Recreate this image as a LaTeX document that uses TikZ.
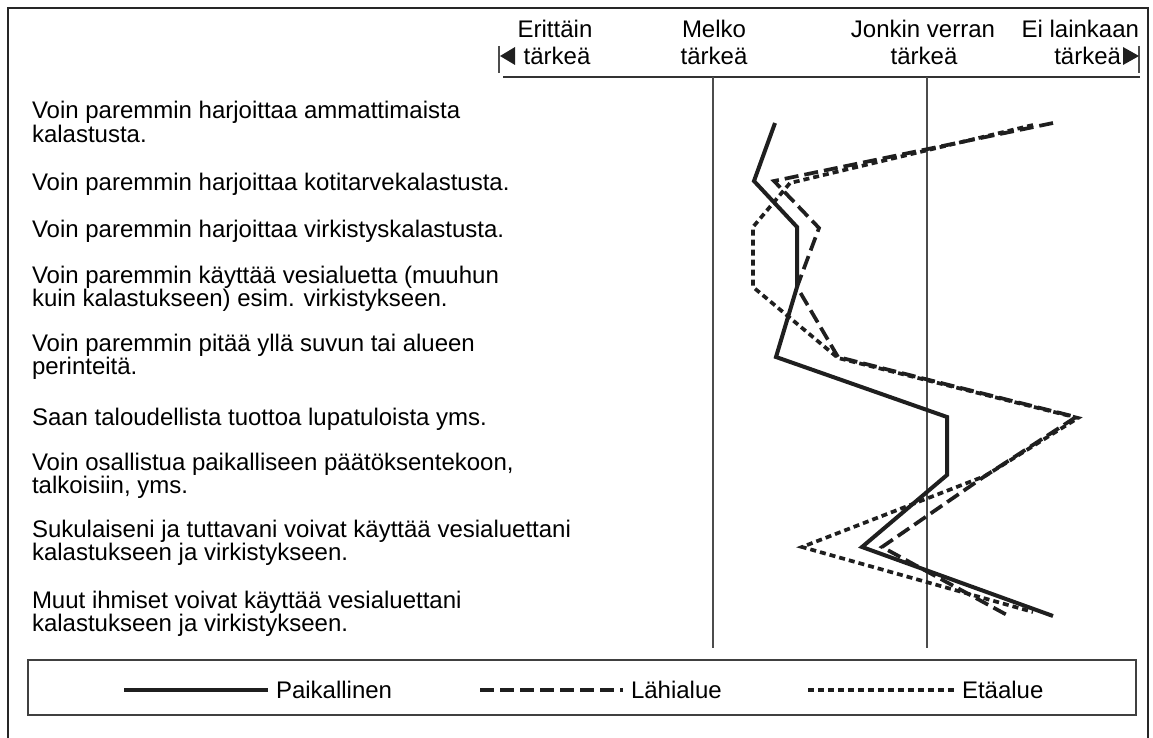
\documentclass[tikz,border=0pt]{standalone}
\usepackage{fontspec}
\setmainfont{Liberation Sans}
\usetikzlibrary{arrows}

\begin{document}
\begin{tikzpicture}[x=1pt,y=-1pt,line join=miter,
                    every node/.style={inner sep=0pt,outer sep=0pt}]
  \tikzstyle{rivi}=[anchor=west,align=left,font=\fontsize{24}{21.5}\selectfont]
  \tikzstyle{otsake}=[anchor=base,font=\fontsize{24}{27}\selectfont]
  \tikzstyle{selite}=[anchor=west,inner xsep=8pt,font=\fontsize{24}{27}\selectfont]
  \tikzstyle{paik}=[line width=4pt,color=black!88]
  \tikzstyle{lahi}=[line width=3.7pt,color=black!88,dash pattern=on 14pt off 6pt]
  \tikzstyle{eta}=[line width=3.7pt,color=black!88,dash pattern=on 6pt off 4pt]
  \tikzstyle{apu}=[line width=1.1pt,color=black!70]

  \useasboundingbox (0,0) rectangle (1153,738);

  % frame
  \draw[line width=2.8pt,color=black!85] (8,750) -- (8,8) -- (1148,8) -- (1148,750);

  % scale header
  \node[otsake]                 (H1) at (555,38)  {Erittäin};
  \node[otsake]                 (H1b) at (557,65) {tärkeä};
  \node[otsake]                 (H2) at (714,38)  {Melko};
  \node[otsake]                 (H2b) at (714,65) {tärkeä};
  \node[otsake]                 (H3) at (923,38)  {Jonkin verran};
  \node[otsake]                 (H3b) at (924,65) {tärkeä};
  \node[otsake,anchor=base east] (H4) at (1139,38) {Ei lainkaan};
  \node[otsake,anchor=base east] (H4b) at (1121,65) {tärkeä};

  \draw[line width=1.3pt,color=black!80] (503,77) -- (1140,77);
  \draw[apu] (499,46) -- (499,73);
  \draw[apu] (1139,46) -- (1139,73);
  \fill[black!88] (500,56) -- (515,47) -- (515,65) -- cycle;
  \fill[black!88] (1139,56) -- (1123,47) -- (1123,65) -- cycle;

  \draw[apu] (713,77) -- (713,648);
  \draw[apu] (927,77) -- (927,648);

  % statements
  \node[rivi] (T1) at (32,122) {Voin paremmin harjoittaa ammattimaista\\kalastusta.};
  \node[rivi] (T2) at (32,184) {Voin paremmin harjoittaa kotitarvekalastusta.};
  \node[rivi] (T3) at (32,231) {Voin paremmin harjoittaa virkistyskalastusta.};
  \node[rivi] (T4) at (32,289) {Voin paremmin käyttää vesialuetta (muuhun\\kuin kalastukseen) esim. virkistykseen.};
  \node[rivi] (T5) at (32,357) {Voin paremmin pitää yllä suvun tai alueen\\perinteitä.};
  \node[rivi] (T6) at (32,419) {Saan taloudellista tuottoa lupatuloista yms.};
  \node[rivi] (T7) at (32,476) {Voin osallistua paikalliseen päätöksentekoon,\\talkoisiin, yms.};
  \node[rivi] (T8) at (32,543) {Sukulaiseni ja tuttavani voivat käyttää vesialuettani\\kalastukseen ja virkistykseen.};
  \node[rivi] (T9) at (32,614) {Muut ihmiset voivat käyttää vesialuettani\\kalastukseen ja virkistykseen.};

  % Paikallinen
  \coordinate (P1) at (775,123);  \coordinate (P2) at (754,181);
  \coordinate (P3) at (797,227);  \coordinate (P4) at (797,287);
  \coordinate (P5) at (776,357);  \coordinate (P6) at (947,417);
  \coordinate (P7) at (947,475);  \coordinate (P8) at (862,547);
  \coordinate (P9) at (1053,616);
  % Lahialue
  \coordinate (L1) at (1053,123); \coordinate (L2) at (774,181);
  \coordinate (L3) at (819,228);  \coordinate (L4) at (797,287);
  \coordinate (L5) at (838,357);  \coordinate (L6) at (1076,417);
  \coordinate (L7) at (985,476);  \coordinate (L8) at (882,547);
  \coordinate (L9) at (1007,615);
  % Etaalue
  \coordinate (E1) at (1033,125); \coordinate (E2) at (790,183);
  \coordinate (E3) at (753,227);  \coordinate (E4) at (753,287);
  \coordinate (E5) at (838,358);  \coordinate (E6) at (1078,418);
  \coordinate (E7) at (985,476);  \coordinate (E8) at (802,547);
  \coordinate (E9) at (1033,612);

  \draw[eta]  (E1) -- (E2) -- (E3) -- (E4) -- (E5) -- (E6) -- (E7) -- (E8) -- (E9);
  \draw[lahi] (L1) -- (L2) -- (L3) -- (L4) -- (L5) -- (L6) -- (L7) -- (L8) -- (L9);
  \draw[paik] (P1) -- (P2) -- (P3) -- (P4) -- (P5) -- (P6) -- (P7) -- (P8) -- (P9);

  % legend
  \draw[line width=1.8pt,color=black!75] (28,660) rectangle (1136,715);
  \node[selite] (SP) at (268,690) {Paikallinen};
  \node[selite] (SL) at (623,690) {Lähialue};
  \node[selite] (SE) at (954,690) {Etäalue};
  \coordinate (SP0) at (124,690);
  \coordinate (SL0) at (480,690);
  \coordinate (SE0) at (808,690);
  \draw[paik] (SP0) -- (SP);
  \draw[lahi] (SL0) -- (SL);
  \draw[eta]  (SE0) -- (SE);
\end{tikzpicture}
\end{document}
